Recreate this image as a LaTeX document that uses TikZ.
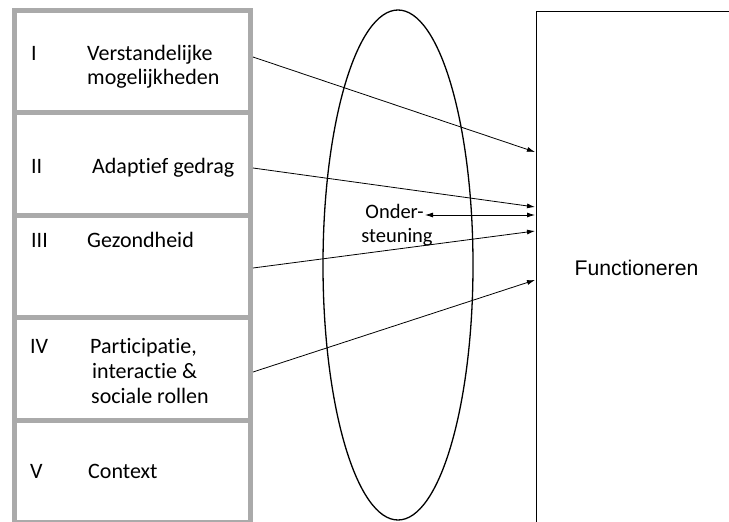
\documentclass[tikz,border=0pt]{standalone}
\usepackage{fontspec}
\setmainfont{Carlito}[Ligatures={NoCommon}]
\newfontfamily\arialfont{Liberation Sans}
\usetikzlibrary{shapes.geometric,arrows.meta}
\definecolor{boxgray}{RGB}{170,170,170}
\begin{document}
\begin{tikzpicture}[x=1pt,y=-1pt,
  gbox/.style={draw=boxgray,line width=5pt,minimum width=236pt,minimum height=102.5pt,inner sep=0pt},
  lbl/.style={anchor=base west,font=\fontsize{22}{25}\selectfont,inner sep=0pt},
  olbl/.style={anchor=base,font=\fontsize{20.5}{24}\selectfont,inner sep=0pt},
  conn/.style={line width=0.8pt,-{Latex[length=8pt,width=5pt]}}]
\useasboundingbox (0,0) rectangle (729,522);
\clip (0,0) rectangle (729,522);
\fill[white] (0,0) rectangle (729,522);
% left boxes
\node[gbox] (b1) at (132.5,61.25) {};
\node[gbox] (b2) at (132.5,163.75) {};
\node[gbox] (b3) at (132.5,266.25) {};
\node[gbox] (b4) at (132.5,368.75) {};
\node[gbox] (b5) at (132.5,471.25) {};
% numerals
\node[lbl] (n1) at (31,60) {I};
\node[lbl] (n2) at (31,173) {II};
\node[lbl] (n3) at (31,247) {III};
\node[lbl] (n4) at (30,353) {IV};
\node[lbl] (n5) at (30,478) {V};
% labels
\node[lbl] (l1a) at (87,60) {Verstandelijke};
\node[lbl] (l1b) at (87,84) {mogelijkheden};
\node[lbl] (l2) at (92,173) {Adaptief gedrag};
\node[lbl] (l3) at (87,247) {Gezondheid};
\node[lbl] (l4a) at (90,353) {Participatie,};
\node[lbl] (l4b) at (92,378) {interactie \&};
\node[lbl] (l4c) at (91,403) {sociale rollen};
\node[lbl] (l5) at (88,478) {Context};
% ellipse
\node[draw,ellipse,line width=1.3pt,minimum width=150pt,minimum height=510pt,inner sep=0pt] (ell) at (398,265) {};
\node[olbl] (onda) at (394.5,218) {Onder-};
\node[olbl] (ondb) at (397,242) {steuning};
% right box
\node[draw,line width=1.3pt,minimum width=260pt,minimum height=560pt,anchor=north west,inner sep=0pt] (fbox) at (536,11) {};
\node[font=\arialfont\fontsize{21.2}{24}\selectfont,inner sep=0pt] (ftxt) at (636.5,268) {Functioneren};
% connector endpoints
\coordinate (s1) at (253,57);
\coordinate (s2) at (253,168);
\coordinate (s3) at (253,268);
\coordinate (s4) at (253,372);
\coordinate (s5) at (425,215);
\coordinate (t1) at (535,152);
\coordinate (t2) at (535,207);
\coordinate (t3) at (535,231);
\coordinate (t4) at (535,280);
\coordinate (t5) at (535,215);
\draw[conn] (s1) -- (t1);
\draw[conn] (s2) -- (t2);
\draw[conn] (s3) -- (t3);
\draw[conn] (s4) -- (t4);
\draw[line width=0.8pt,{Latex[length=8pt,width=5pt]}-{Latex[length=8pt,width=5pt]}] (s5) -- (t5);
\end{tikzpicture}
\end{document}
